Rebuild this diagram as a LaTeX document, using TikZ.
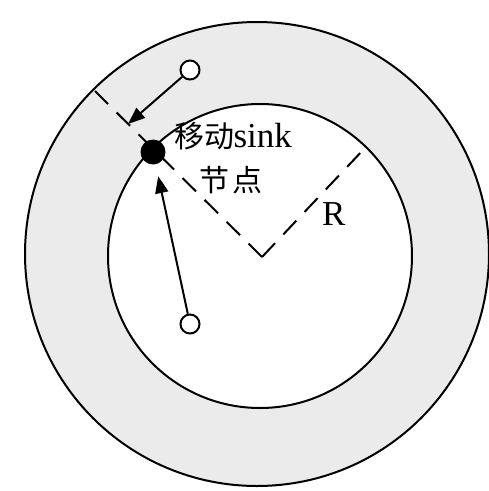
\documentclass[tikz,border=0pt]{standalone}
\usepackage{fontspec}
\setmainfont{Liberation Serif}
\newfontfamily\cjk{Noto Sans CJK SC}
\usetikzlibrary{arrows.meta,calc}
\begin{document}
\begin{tikzpicture}[x=1pt,y=-1pt,
  ring/.style={draw=black,line width=2pt},
  dashline/.style={draw=black,line width=2pt,dash pattern=on 19pt off 12pt},
  hollow/.style={circle,draw=black,line width=2pt,fill=white,minimum size=19pt,inner sep=0pt},
  sinkdot/.style={circle,fill=black,minimum size=25pt,inner sep=0pt},
  moveto/.style={draw=black,line width=2pt,-{Triangle[length=17pt,width=13pt]}},
  lbl/.style={inner sep=0pt,anchor=base west,font=\fontsize{35pt}{38pt}\selectfont},
  cjklbl/.style={inner sep=0pt,anchor=base west,font=\cjk\fontsize{30pt}{34pt}\selectfont}]
\useasboundingbox (0,0) rectangle (489,491);
\fill[white] (0,0) rectangle (489,491);
% annulus
\fill[gray!16] (257,254) circle (232);
\fill[white] (260,256) circle (152);
\draw[ring] (257,254) circle (232);
\draw[ring] (260,256) circle (152);
% radii
\coordinate (c) at (262,257);
\coordinate (po) at (95,91);
\coordinate (pi) at (364,149);
\draw[dashline] (c) -- (po);
\draw[dashline] (c) -- (pi);
% nodes
\node[sinkdot] (sink) at (153,152) {};
\node[hollow] (n1) at (190,70) {};
\node[hollow] (n2) at (190,324) {};
\coordinate (t1) at (128,124);
\draw[moveto] (n1) -- (t1);
\draw[moveto,shorten >=12pt] (n2) -- (sink);
% labels
\node[cjklbl] (t) at (174,147) {移动};
\node[lbl] (ts) at ($(t.base east)+(-1,0)$) {sink};
\node[cjklbl] (t2) at (199,191) {节\hspace{3pt}点};
\node[lbl] (r) at (322,225) {R};
\end{tikzpicture}
\end{document}
